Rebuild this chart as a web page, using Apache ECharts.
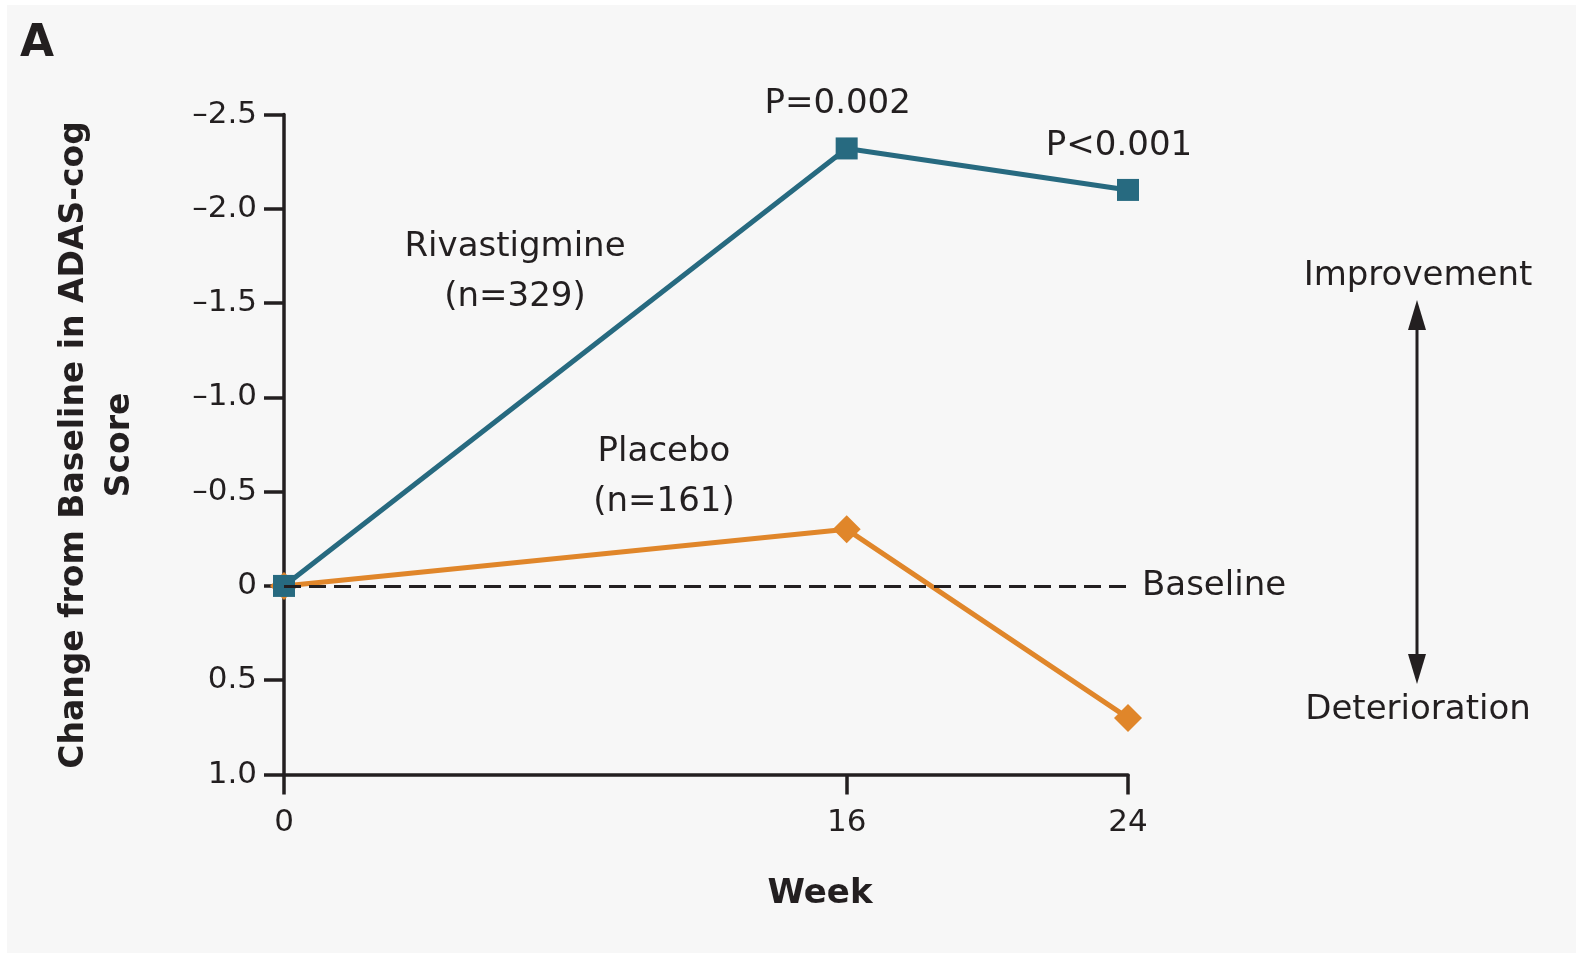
<!DOCTYPE html>
<html>
<head>
<meta charset="utf-8">
<script src="https://cdn.jsdelivr.net/npm/echarts@6/dist/echarts.min.js"></script>
<style>
html,body{margin:0;padding:0;background:#ffffff;}
#chart{width:1576px;height:953px;}
</style>
</head>
<body>
<div id="chart"></div>
<script>
// ---- data ----
const weeks = [0, 16, 24];
const rivastigmine = [0, -2.32, -2.1];
const placebo = [0, -0.3, 0.7];
const pLabels = ['', 'P=0.002', 'P<0.001'];
const xTicks = [0, 16, 24];
const xTickLabels = ['0', '16', '24'];
const yTicks = [-2.5, -2.0, -1.5, -1.0, -0.5, 0, 0.5, 1.0];
const yTickLabels = ['\u20132.5', '\u20132.0', '\u20131.5', '\u20131.0', '\u20130.5', '0', '0.5', '1.0'];
const baselineValue = 0;

const FONT = 'DejaVu Sans';
const INK = '#231f20';
const TEAL = '#276a80';
const ORANGE = '#e0862a';

const chart = echarts.init(document.getElementById('chart'), null, {renderer: 'canvas'});

function lookup(ticks, labels, v) {
  for (let i = 0; i < ticks.length; i++) {
    if (Math.abs(ticks[i] - v) < 1e-9) return labels[i];
  }
  return '';
}

const option = {
  backgroundColor: '#ffffff',
  animation: false,
  grid: {left: 284, right: 448, top: 114.5, bottom: 178.5, containLabel: false},
  xAxis: {
    type: 'value',
    min: 0, max: 24,
    splitLine: {show: false},
    axisLine: {show: true, onZero: false, lineStyle: {color: INK, width: 3.5}},
    axisTick: {show: true, customValues: xTicks, length: 20, lineStyle: {color: INK, width: 3.5}},
    axisLabel: {
      customValues: xTicks,
      formatter: v => lookup(xTicks, xTickLabels, v),
      fontFamily: FONT, fontSize: 31, color: INK, margin: 33
    }
  },
  yAxis: {
    type: 'value',
    inverse: true,
    min: -2.5, max: 1.0, interval: 0.5,
    splitLine: {show: false},
    axisLine: {show: true, onZero: false, lineStyle: {color: INK, width: 3.5}},
    axisTick: {show: true, length: 20, lineStyle: {color: INK, width: 3.5}},
    axisLabel: {
      formatter: v => lookup(yTicks, yTickLabels, v),
      fontFamily: FONT, fontSize: 31, color: INK, margin: 27
    }
  },
  series: [
    {
      name: 'Baseline',
      type: 'line',
      data: [],
      z: 1,
      markLine: {
        silent: true,
        symbol: ['none', 'none'],
        lineStyle: {color: INK, width: 3, type: [17, 8]},
        label: {
          show: true, position: 'end', distance: 14,
          formatter: 'Baseline',
          fontFamily: FONT, fontSize: 34, color: INK
        },
        emphasis: {disabled: true},
        data: [{yAxis: baselineValue}]
      }
    },
    {
      name: 'Placebo',
      type: 'line',
      z: 3,
      data: weeks.map((w, i) => [w, placebo[i]]),
      symbol: 'diamond',
      symbolSize: 28,
      lineStyle: {color: ORANGE, width: 5},
      itemStyle: {color: ORANGE},
      label: {show: false}
    },
    {
      name: 'Rivastigmine',
      type: 'line',
      z: 4,
      data: weeks.map((w, i) => [w, rivastigmine[i]]),
      symbol: 'rect',
      symbolSize: 22,
      lineStyle: {color: TEAL, width: 5},
      itemStyle: {color: TEAL},
      label: {
        show: true,
        position: 'top',
        distance: 16,
        offset: [-9, 0],
        formatter: p => pLabels[p.dataIndex],
        fontFamily: FONT, fontSize: 34, color: INK
      }
    }
  ],
  graphic: [
    {type: 'rect', z: -100, silent: true,
     shape: {x: 7, y: 5, width: 1569, height: 948}, style: {fill: '#f7f7f7'}},
    {type: 'text', x: 20, y: 45, silent: true,
     style: {text: 'A', fontFamily: FONT, fontWeight: 'bold', fontSize: 44, fill: INK,
             textAlign: 'left', textVerticalAlign: 'middle'}},
    {type: 'text', x: 97, y: 445, rotation: Math.PI / 2, silent: true,
     style: {text: 'Change from Baseline in ADAS-cog\nScore', fontFamily: FONT, fontWeight: 'bold',
             fontSize: 33, lineHeight: 46, fill: INK, textAlign: 'center', textVerticalAlign: 'middle'}},
    {type: 'text', x: 820, y: 894, silent: true,
     style: {text: 'Week', fontFamily: FONT, fontWeight: 'bold', fontSize: 34, fill: INK,
             textAlign: 'center', textVerticalAlign: 'middle'}},
    {type: 'text', x: 515, y: 272, silent: true,
     style: {text: 'Rivastigmine\n(n=329)', fontFamily: FONT, fontSize: 34, lineHeight: 50, fill: INK,
             textAlign: 'center', textVerticalAlign: 'middle'}},
    {type: 'text', x: 664, y: 477, silent: true,
     style: {text: 'Placebo\n(n=161)', fontFamily: FONT, fontSize: 34, lineHeight: 50, fill: INK,
             textAlign: 'center', textVerticalAlign: 'middle'}},
    {type: 'text', x: 1418, y: 276, silent: true,
     style: {text: 'Improvement', fontFamily: FONT, fontSize: 34, fill: INK,
             textAlign: 'center', textVerticalAlign: 'middle'}},
    {type: 'text', x: 1418, y: 710, silent: true,
     style: {text: 'Deterioration', fontFamily: FONT, fontSize: 34, fill: INK,
             textAlign: 'center', textVerticalAlign: 'middle'}},
    {type: 'line', silent: true,
     shape: {x1: 1417, y1: 320, x2: 1417, y2: 664}, style: {stroke: INK, lineWidth: 3}},
    {type: 'polygon', silent: true,
     shape: {points: [[1417, 300], [1408, 330], [1426, 330]]}, style: {fill: INK}},
    {type: 'polygon', silent: true,
     shape: {points: [[1417, 684], [1408, 654], [1426, 654]]}, style: {fill: INK}}
  ]
};

chart.setOption(option);
</script>
</body>
</html>
